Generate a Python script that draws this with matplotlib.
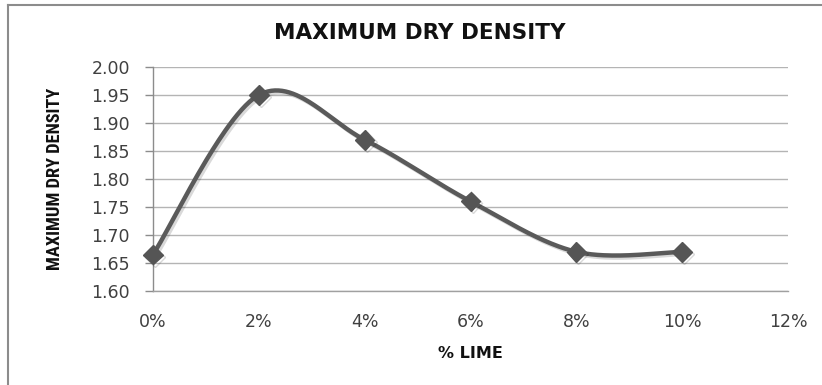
import numpy as np
import matplotlib
matplotlib.use("Agg")
import matplotlib.pyplot as plt
from matplotlib import patheffects as pe
from matplotlib.lines import Line2D
from matplotlib.ticker import FuncFormatter

# ---- data ----
lime_pct = [0, 2, 4, 6, 8, 10]
max_dry_density = [1.665, 1.95, 1.87, 1.76, 1.67, 1.67]
x_ticks = [0, 2, 4, 6, 8, 10, 12]
y_ticks = [1.60, 1.65, 1.70, 1.75, 1.80, 1.85, 1.90, 1.95, 2.00]
title = "MAXIMUM DRY DENSITY"
xlabel = "% LIME"
ylabel = "MAXIMUM DRY DENSITY"


def smooth_curve(xs, ys, n=60):
    """Excel-like smoothed line (Catmull-Rom Bezier through the points)."""
    P = np.column_stack([xs, ys]).astype(float)
    out = []
    for i in range(len(P) - 1):
        p0 = P[i - 1] if i > 0 else P[i]
        p1 = P[i]
        p2 = P[i + 1]
        p3 = P[i + 2] if i + 2 < len(P) else P[i + 1]
        b1 = p1 + (p2 - p0) / 6.0
        b2 = p2 - (p3 - p1) / 6.0
        t = np.linspace(0, 1, n)[:, None]
        seg = ((1 - t) ** 3) * p1 + 3 * ((1 - t) ** 2) * t * b1 + 3 * (1 - t) * t ** 2 * b2 + t ** 3 * p2
        out.append(seg if i == 0 else seg[1:])
    c = np.vstack(out)
    return c[:, 0], c[:, 1]


W, H = 822, 385
fig = plt.figure(figsize=(W / 100, H / 100), dpi=100)
fig.patch.set_facecolor("white")

ax = fig.add_axes([153 / W, 1 - 291 / H, (788 - 153) / W, (291 - 67) / H])
ax.set_xlim(0, 12)
ax.set_ylim(1.60, 2.00)
ax.set_xticks(x_ticks)
ax.set_yticks(y_ticks)
ax.xaxis.set_major_formatter(FuncFormatter(lambda v, p: f"{v:.0f}%"))
ax.yaxis.set_major_formatter(FuncFormatter(lambda v, p: f"{v:.2f}"))

for s in ["top", "right"]:
    ax.spines[s].set_visible(False)
ax.spines["left"].set_color("#8c8c8c")
ax.spines["left"].set_linewidth(1.0)
ax.spines["bottom"].set_color("#a0a0a0")
ax.spines["bottom"].set_linewidth(1.0)

ax.grid(axis="y", color="#b4b4b4", linewidth=1.0)
ax.set_axisbelow(True)
ax.tick_params(axis="y", length=6, width=1.0, color="#8c8c8c", pad=10.5,
               labelsize=12.5, labelcolor="#404040")
ax.tick_params(axis="x", length=0, pad=16, labelsize=12.5, labelcolor="#404040")

sx, sy = smooth_curve(lime_pct, max_dry_density)
shadow = [pe.SimpleLineShadow(offset=(1.5, -1.5), shadow_color="#000000", alpha=0.15),
          pe.Normal()]
ax.plot(sx, sy, color="#5a5a5a", linewidth=3.2, solid_capstyle="round",
        path_effects=shadow, zorder=3, clip_on=False)
ax.plot(lime_pct, max_dry_density, linestyle="none", marker="D", markersize=10,
        color="#555555", markeredgecolor="#555555", path_effects=shadow,
        zorder=4, clip_on=False)

fig.text(420 / W, 1 - 33 / H, title, ha="center", va="center",
         fontsize=15.5, fontweight="bold", color="#111111")
fig.text(470 / W, 1 - 354 / H, xlabel, ha="center", va="center",
         fontsize=11.5, fontweight="bold", color="#111111")
fig.text(55 / W, 1 - 179 / H, ylabel, ha="center", va="center", rotation=90,
         fontsize=13.2, family=["Roboto Condensed", "DejaVu Sans"],
         fontstretch="condensed", fontweight="bold", color="#111111")

# outer chart border (top and left, as cropped in the reference)
fig.add_artist(Line2D([8 / W, 1.0], [1 - 5 / H, 1 - 5 / H], transform=fig.transFigure,
                      color="#8c8c8c", linewidth=1.5))
fig.add_artist(Line2D([8 / W, 8 / W], [1 - 5 / H, 0.0], transform=fig.transFigure,
                      color="#8c8c8c", linewidth=1.5))

fig.savefig("out.png", dpi=100, facecolor="white")
